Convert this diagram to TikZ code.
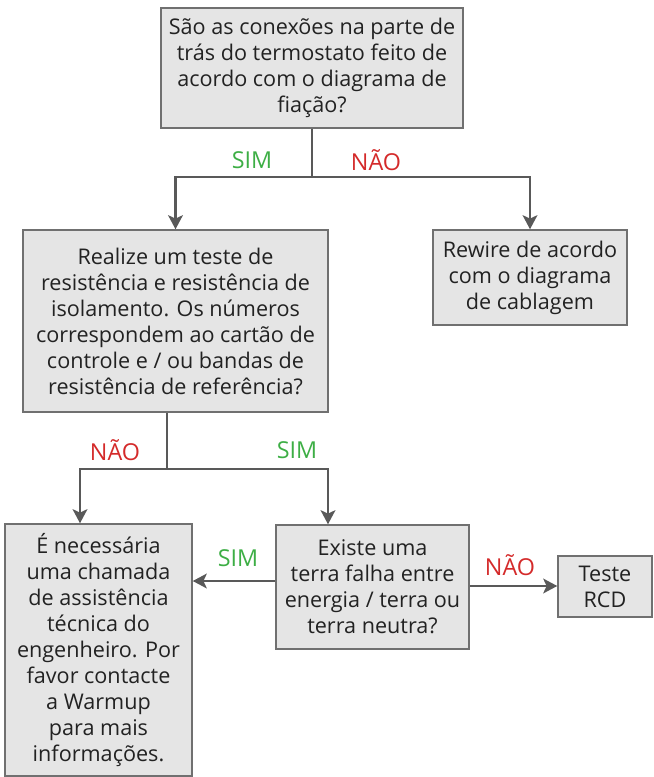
\documentclass[tikz,border=0pt]{standalone}
\usepackage{fontspec}
\setmainfont{Open Sans}
\usetikzlibrary{arrows.meta}
\definecolor{boxfill}{HTML}{E5E5E5}
\definecolor{boxline}{HTML}{707070}
\definecolor{conn}{HTML}{595959}
\definecolor{simgreen}{HTML}{3DAE45}
\definecolor{naored}{HTML}{D42A2A}
\definecolor{txt}{HTML}{222222}
\tikzset{
  box/.style={draw=boxline, line width=1.1pt, fill=boxfill, inner sep=0pt, align=center,
    text=txt, font=\fontsize{16.2}{19.5}\selectfont},
  conn/.style={draw=conn, line width=2.2pt},
  arr/.style={conn, -{Stealth[length=10.5pt,width=11pt,inset=2.5pt]}},
  sim/.style={text=simgreen, font=\fontsize{17.5}{20}\selectfont},
  nao/.style={text=naored, font=\fontsize{17.5}{20}\selectfont},
}
\begin{document}
\begin{tikzpicture}[x=0.75pt,y=-0.75pt]
\useasboundingbox (0,0) rectangle (653,777);
\node[box, minimum width=226.5pt, minimum height=90pt] (b1) at (312,68)
  {São as conexões na parte de\\trás do termostato feito de\\acordo com o diagrama de\\fiação?};
\node[box, minimum width=228.75pt, minimum height=136.5pt] (b2) at (175.5,321)
  {Realize um teste de\\resistência e resistência de\\isolamento. Os números\\correspondem ao cartão de\\controle e / ou bandas de\\resistência de referência?};
\node[box, minimum width=145.5pt, minimum height=71.25pt] (b3) at (530,277.5)
  {Rewire de acordo\\com o diagrama\\de cablagem};
\node[box, minimum width=140.25pt, minimum height=189pt] (b4) at (98.5,650)
  {É necessária\\uma chamada\\de assistência\\técnica do\\engenheiro. Por\\favor contacte\\a Warmup\\para mais\\informações.};
\node[box, minimum width=144.75pt, minimum height=93pt] (b5) at (372.5,587)
  {Existe uma\\terra falha entre\\energia / terra ou\\terra neutra?};
\node[box, minimum width=70.5pt, minimum height=45.75pt] (b6) at (605,586.5)
  {Teste\\RCD};

\coordinate (j1) at (312,177);
\draw[conn] (b1.south) -- (j1);
\draw[arr] (j1) -| (b2.north);
\draw[arr] (j1) -| (b3.north);

\coordinate (j2) at (167,469);
\coordinate (c4) at (80,0);
\coordinate (c5) at (328,0);
\draw[conn] (j2 |- b2.south) -- (j2);
\draw[arr] (j2) -| (c4 |- b4.north);
\draw[arr] (j2) -| (c5 |- b5.north);

\coordinate (r1) at (0,581);
\coordinate (r2) at (0,586);
\draw[arr] (b5.west |- r1) -- (b4.east |- r1);
\draw[arr] (b5.east |- r2) -- (b6.west |- r2);

\node[sim] (l1) at (252,160) {SIM};
\node[nao] (l2) at (376,160) {NÃO};
\node[nao] (l3) at (115,450) {NÃO};
\node[sim] (l4) at (297,450) {SIM};
\node[sim] (l5) at (238,558) {SIM};
\node[nao] (l6) at (510,565) {NÃO};
\end{tikzpicture}
\end{document}
